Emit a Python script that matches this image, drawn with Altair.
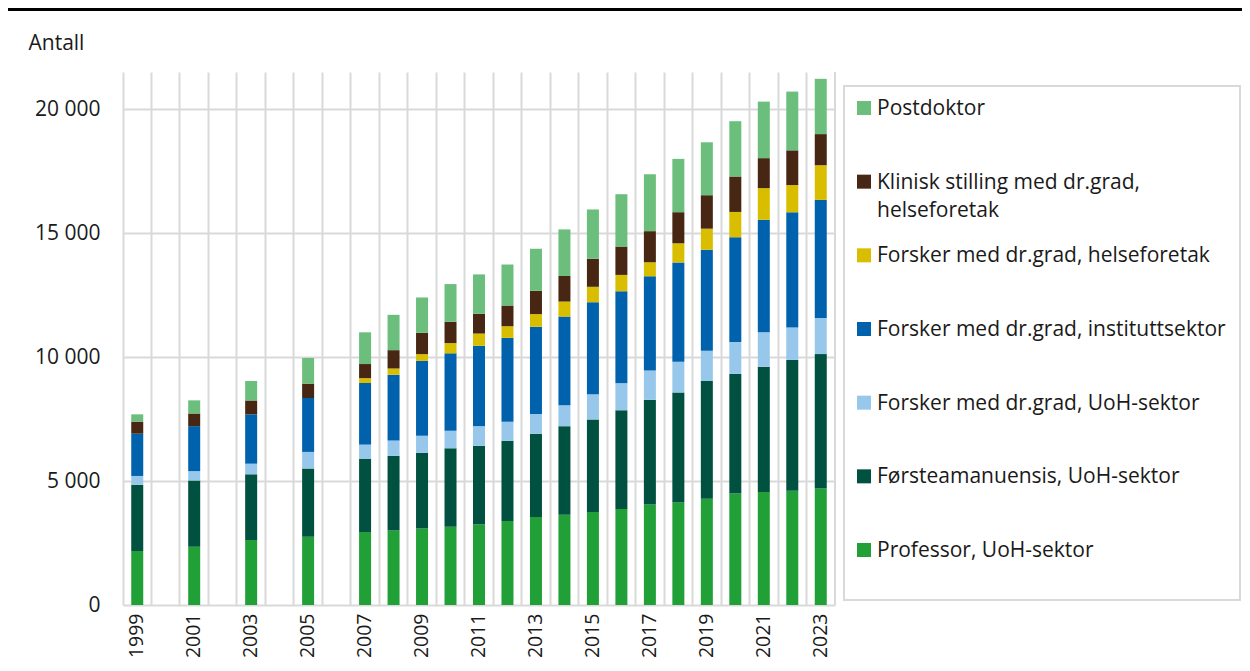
import altair as alt
import pandas as pd

# ---------------- data ----------------
all_years = [str(y) for y in range(1999, 2024)]
years = ["1999", "2001", "2003", "2005"] + [str(y) for y in range(2007, 2024)]

categories = [
    "Professor, UoH-sektor",
    "Førsteamanuensis, UoH-sektor",
    "Forsker med dr.grad, UoH-sektor",
    "Forsker med dr.grad, instituttsektor",
    "Forsker med dr.grad, helseforetak",
    "Klinisk stilling med dr.grad, helseforetak",
    "Postdoktor",
]
colors = ["#22A038", "#00513F", "#97C8EC", "#0062AD", "#D9BE00", "#472713", "#6BBE7C"]

professor = [2180, 2350, 2620, 2750, 2945, 3010, 3090, 3160, 3250, 3385, 3550,
             3640, 3750, 3870, 4055, 4130, 4290, 4495, 4555, 4605, 4700]
forsteamanuensis = [2675, 2675, 2650, 2755, 2945, 3010, 3050, 3160, 3170, 3240, 3360,
                    3575, 3735, 3985, 4225, 4445, 4745, 4825, 5060, 5280, 5420]
forsker_uoh = [350, 375, 430, 670, 580, 620, 685, 710, 795, 765, 795,
               845, 1020, 1085, 1180, 1240, 1225, 1290, 1385, 1305, 1460]
forsker_institutt = [1705, 1815, 1990, 2175, 2485, 2650, 3025, 3120, 3240, 3385, 3520,
                     3575, 3710, 3715, 3800, 4005, 4070, 4225, 4540, 4650, 4760]
forsker_helse = [0, 0, 0, 0, 195, 250, 270, 415, 495, 470, 510,
                 605, 620, 660, 565, 770, 850, 1020, 1275, 1100, 1400]
klinisk = [485, 510, 560, 580, 570, 740, 860, 860, 795, 835, 940,
           1030, 1130, 1145, 1255, 1255, 1350, 1430, 1210, 1400, 1255]
postdoktor = [295, 530, 785, 1035, 1280, 1425, 1425, 1520, 1590, 1655, 1695,
              1880, 1990, 2110, 2295, 2150, 2135, 2230, 2280, 2370, 2230]

series = [professor, forsteamanuensis, forsker_uoh, forsker_institutt,
          forsker_helse, klinisk, postdoktor]

legend_order = list(reversed(categories))
legend_labels = [
    "Postdoktor",
    "Klinisk stilling med dr.grad,\nhelseforetak",
    "Forsker med dr.grad, helseforetak",
    "Forsker med dr.grad, instituttsektor",
    "Forsker med dr.grad, UoH-sektor",
    "Førsteamanuensis, UoH-sektor",
    "Professor, UoH-sektor",
]
y_ticks = [0, 5000, 10000, 15000, 20000]

# ---------------- tables ----------------
rows = []
for ci, (cat, vals) in enumerate(zip(categories, series)):
    for yr, v in zip(years, vals):
        rows.append({"year": yr, "cat": cat, "value": v, "order": ci})
df = pd.DataFrame(rows)
leg_df = pd.DataFrame({"cat": legend_order, "label": legend_labels})
one = pd.DataFrame({"a": [0]})

FONT = "Open Sans"
TXT = "#1a1a1a"
GRID = "#d9d9d9"
W, H = 712, 533

xscale = alt.Scale(domain=all_years, paddingInner=0, paddingOuter=0)
color_scale = alt.Scale(domain=categories, range=colors)

xaxis = alt.Axis(
    title=None, labelAngle=270, grid=True, gridColor=GRID, gridWidth=2,
    bandPosition=0,
    ticks=False, tickSize=0, domain=False,
    labelExpr="toNumber(datum.value) % 2 == 1 ? datum.value : ''",
    labelPadding=8, labelFontSize=19.5, labelFont=FONT, labelColor=TXT,
    labelOverlap=False,
)
yaxis = alt.Axis(
    title="Antall", titleAngle=0, titleX=-95, titleY=-29, titleAlign="left",
    titleBaseline="middle", titleFontSize=21, titleFontWeight="normal",
    titleFont=FONT, titleColor=TXT,
    values=y_ticks,
    labelExpr="replace(format(datum.value, ','), ',', ' ')",
    grid=True, gridColor=GRID, gridWidth=2, domain=False, ticks=False, tickSize=0,
    labelPadding=23, labelFontSize=21, labelFont=FONT, labelColor=TXT,
)

bars = alt.Chart(df).mark_bar(size=12).encode(
    x=alt.X("year:O", scale=xscale, axis=xaxis),
    y=alt.Y("value:Q", stack="zero",
            scale=alt.Scale(domain=[0, 21500], nice=False), axis=yaxis),
    color=alt.Color("cat:N", scale=color_scale, legend=None),
    order=alt.Order("order:Q", sort="ascending"),
)

# right edge of the plot frame (closing vertical gridline)
right_edge = alt.Chart(one).mark_rule(color=GRID, strokeWidth=2).encode(
    x=alt.value(W), y=alt.value(0), y2=alt.value(H)
)

leg_y = alt.Y("cat:N", scale=alt.Scale(type="point", domain=legend_order,
                                         range=[36, 478], padding=0), axis=None)

box = alt.Chart(one).mark_rect(fillOpacity=0, stroke=GRID, strokeWidth=2).encode(
    x=alt.value(721), x2=alt.value(1117), y=alt.value(14), y2=alt.value(528)
)
squares = alt.Chart(leg_df).mark_square(size=196, opacity=1).encode(
    x=alt.value(741), y=leg_y,
    color=alt.Color("cat:N", scale=color_scale, legend=None),
)
texts = alt.Chart(leg_df).mark_text(
    align="left", baseline="top", dy=-10, fontSize=21, font=FONT, color=TXT,
    lineBreak="\n", lineHeight=28,
).encode(x=alt.value(754), y=leg_y, text="label:N")

topline = alt.Chart(one).mark_rule(color="black", strokeWidth=3).encode(
    x=alt.value(-115), x2=alt.value(1119), y=alt.value(-62.5)
)

chart = (
    alt.layer(right_edge, bars, box, squares, texts, topline)
    .resolve_scale(y="independent")
    .properties(
        width=W, height=H,
        autosize=alt.AutoSizeParams(type="none"),
        padding={"left": 115, "top": 64, "right": 407, "bottom": 54},
        background="white",
    )
    .configure(font=FONT)
    .configure_view(stroke="transparent", strokeWidth=0)
)

chart.save("out.html", embed_options={"renderer": "svg", "actions": False})
